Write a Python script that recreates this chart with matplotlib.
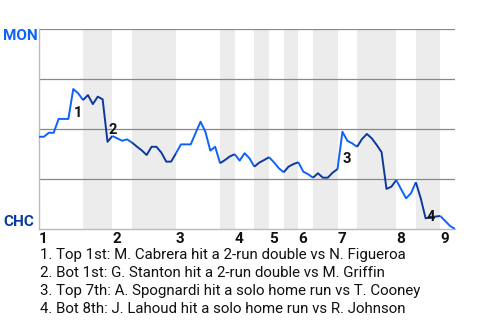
import matplotlib
matplotlib.use('Agg')
import matplotlib.pyplot as plt
import numpy as np

# MON win probability after each event (0 = CHC wins, 1 = MON wins)
win_prob = [0.460, 0.460, 0.480, 0.480, 0.549, 0.549, 0.549, 0.698, 0.677, 0.643,
            0.668, 0.623, 0.660, 0.647, 0.435, 0.464, 0.452, 0.440, 0.447, 0.431,
            0.411, 0.392, 0.369, 0.410, 0.410, 0.381, 0.336, 0.336, 0.378, 0.422,
            0.422, 0.422, 0.479, 0.535, 0.485, 0.391, 0.410, 0.328, 0.344, 0.362,
            0.373, 0.341, 0.378, 0.353, 0.311, 0.331, 0.344, 0.358, 0.333, 0.303,
            0.283, 0.311, 0.324, 0.333, 0.286, 0.273, 0.256, 0.278, 0.256, 0.256,
            0.281, 0.299, 0.485, 0.440, 0.427, 0.410, 0.449, 0.474, 0.452, 0.419,
            0.383, 0.200, 0.211, 0.244, 0.198, 0.153, 0.178, 0.233, 0.153, 0.053,
            0.060, 0.062, 0.065, 0.040, 0.015, 0.000]

# number of events in each half inning (top 1st, bot 1st, ...)
events_per_half = [9, 6, 4, 9, 9, 3, 4, 3, 3, 3, 3, 5, 4, 8, 4, 5, 3]
inning_labels = ['1', '2', '3', '4', '5', '6', '7', '8', '9']
teams = ['MON', 'CHC']

key_event_idx = [7, 14, 62, 79]
key_event_text = [
    "1. Top 1st: M. Cabrera hit a 2-run double vs N. Figueroa",
    "2. Bot 1st: G. Stanton hit a 2-run double vs M. Griffin",
    "3. Top 7th: A. Spognardi hit a solo home run vs T. Cooney",
    "4. Bot 8th: J. Lahoud hit a solo home run vs R. Johnson",
]

light = '#0d63f8'
dark = '#0b3a9c'

plt.rcParams['font.family'] = ['Roboto', 'DejaVu Sans']
W, H = 480, 320
fig = plt.figure(figsize=(W / 100, H / 100), dpi=100)
ax = fig.add_axes([39 / W, 1 - 229 / H, 416 / W, 200.5 / H])

x = np.arange(len(win_prob))
wp = np.array(win_prob)
bounds = np.concatenate([[0], np.cumsum(events_per_half)])

for h in range(len(events_per_half)):
    a, b = bounds[h], bounds[h + 1]
    if h % 2 == 1:
        ax.axvspan(a, b, color='#ececec', lw=0, zorder=0)
    ax.plot(x[a:b + 1], wp[a:b + 1], color=light if h % 2 == 0 else dark,
            lw=1.4, zorder=3, solid_capstyle='butt')

for g in [0.25, 0.5, 0.75, 1.0]:
    ax.axhline(g, color='#888888', lw=0.9, zorder=1)

ax.set_xlim(0, len(win_prob) - 1)
ax.set_ylim(0, 1)
for s in ['top', 'right']:
    ax.spines[s].set_visible(False)
for s in ['left', 'bottom']:
    ax.spines[s].set_color('#bbbbbb')
    ax.spines[s].set_linewidth(1.0)
ax.set_xticks([])
ax.set_yticks([])
ax.patch.set_alpha(0)

# inning labels at start of each inning
for k, lab in enumerate(inning_labels):
    ax.annotate(lab, xy=(bounds[2 * k], 0), xycoords=('data', 'axes fraction'),
                xytext=(0, -14), textcoords='offset pixels',
                ha='left', va='baseline', fontsize=11, fontweight='bold', color='#111111')

# key event numbers
for n, i in enumerate(key_event_idx):
    ax.annotate(str(n + 1), xy=(i - 0.5, (wp[i - 1] + wp[i]) / 2), xycoords='data',
                xytext=(3, -2), textcoords='offset pixels',
                ha='left', va='top', fontsize=10.5, fontweight='bold', color='#111111', zorder=5)

fig.text(3 / W, 1 - 40 / H, teams[0], ha='left', va='baseline', fontsize=11,
         fontweight='bold', color=light)
fig.text(3 / W, 1 - 226 / H, teams[1], ha='left', va='baseline', fontsize=11,
         fontweight='bold', color=dark)

baselines = [259.3, 277.3, 295.5, 313]
for t, yb in zip(key_event_text, baselines):
    fig.text(40 / W, 1 - yb / H, t, ha='left', va='baseline', fontsize=10.8, color='#111111')

fig.savefig('out.png', dpi=100)
